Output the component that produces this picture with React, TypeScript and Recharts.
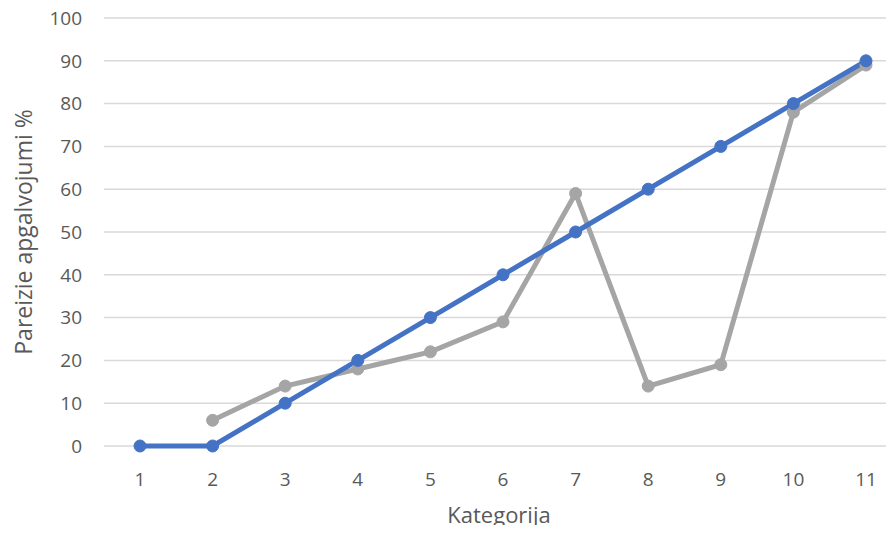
import React from 'react';
import { LineChart, Line, XAxis, YAxis, CartesianGrid } from 'recharts';

const categories = ['1', '2', '3', '4', '5', '6', '7', '8', '9', '10', '11'];
const blueValues = [0, 0, 10, 20, 30, 40, 50, 60, 70, 80, 90];
const grayValues: (number | null)[] = [null, 6, 14, 18, 22, 29, 59, 14, 19, 78, 89];
const yTicks = [0, 10, 20, 30, 40, 50, 60, 70, 80, 90, 100];

const data = categories.map((c, i) => ({ cat: c, blue: blueValues[i], gray: grayValues[i] }));

const font = '"Open Sans", "Noto Sans", sans-serif';
const textColor = '#595959';

export default function App() {
    return (
        <div style={{ margin: -8, width: 894, height: 533, overflow: 'hidden', background: '#fff', fontFamily: font }}>
            <LineChart width={894} height={533} data={data} margin={{ top: 18, right: 0, left: 0, bottom: 0 }}>
                <CartesianGrid vertical={false} stroke="#d9d9d9" strokeWidth={1.5} />
                <XAxis
                    dataKey="cat"
                    height={87}
                    padding={{ left: 36, right: 28 }}
                    tickLine={false}
                    axisLine={false}
                    tick={{ fill: textColor, fontSize: 19, fontFamily: font }}
                    tickSize={0}
                    tickMargin={27}
                    interval={0}
                    label={{ value: 'Kategorija', position: 'insideBottom', offset: 10, fill: textColor, fontSize: 22, fontFamily: font }}
                />
                <YAxis
                    width={104}
                    domain={[0, 100]}
                    ticks={yTicks}
                    interval={0}
                    tickLine={false}
                    axisLine={false}
                    tickSize={0}
                    tickMargin={22}
                    tick={{ fill: textColor, fontSize: 19, fontFamily: font }}
                    label={{ value: 'Pareizie apgalvojumi %', angle: -90, position: 'insideLeft', offset: 24, fill: textColor, fontSize: 23, fontFamily: font, style: { textAnchor: 'middle' } }}
                />
                <Line
                    dataKey="gray"
                    stroke="#A5A5A5"
                    strokeWidth={5}
                    dot={{ r: 6, fill: '#A5A5A5', stroke: '#A5A5A5', strokeWidth: 1 }}
                    isAnimationActive={false}
                />
                <Line
                    dataKey="blue"
                    stroke="#4472C4"
                    strokeWidth={5}
                    dot={{ r: 6, fill: '#4472C4', stroke: '#4472C4', strokeWidth: 1 }}
                    isAnimationActive={false}
                />
            </LineChart>
        </div>
    );
}
